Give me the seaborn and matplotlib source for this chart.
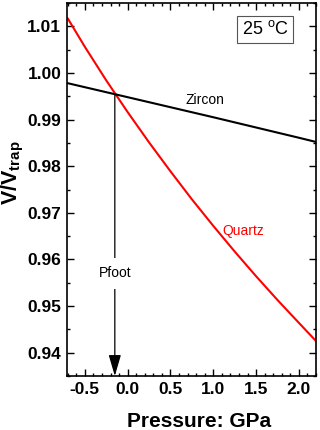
import matplotlib
matplotlib.use("Agg")
import matplotlib.pyplot as plt
import seaborn as sns
import pandas as pd

# Data
quartz_p = [-0.7, -0.5, -0.25, 0.0, 0.25, 0.5, 0.75, 1.0, 1.25, 1.5, 1.75, 2.0, 2.2]
quartz_v = [1.0117, 1.0056, 0.9984, 0.9916, 0.9851, 0.9789, 0.9729, 0.9672, 0.9617, 0.9564, 0.9513, 0.9464, 0.9425]
zircon_p = [-0.7, 0.0, 1.0, 2.0, 2.2]
zircon_v = [0.9978, 0.9948, 0.9905, 0.9861, 0.9852]
pfoot_p = -0.15
pfoot_v = 0.9952
xticks = [-0.5, 0.0, 0.5, 1.0, 1.5, 2.0]
yticks = [0.94, 0.95, 0.96, 0.97, 0.98, 0.99, 1.00, 1.01]

sns.set_style("ticks")
plt.rcParams['font.family'] = ['Liberation Sans', 'DejaVu Sans']
plt.rcParams['mathtext.fontset'] = 'custom'
plt.rcParams['mathtext.rm'] = 'Liberation Sans'
plt.rcParams['mathtext.bf'] = 'Liberation Sans:bold'
for k in ['text.color', 'axes.labelcolor', 'xtick.color', 'ytick.color', 'axes.edgecolor']:
    plt.rcParams[k] = 'black'

fig = plt.figure(figsize=(3.2, 4.3), dpi=100)
ax = fig.add_axes([0.209, 0.1256, 0.9875 - 0.209, 0.993 - 0.1256])

dq = pd.DataFrame({"P": quartz_p, "V": quartz_v})
dz = pd.DataFrame({"P": zircon_p, "V": zircon_v})
sns.lineplot(data=dq, x="P", y="V", color="#ff0000", lw=1.5, ax=ax)
sns.lineplot(data=dz, x="P", y="V", color="black", lw=1.5, ax=ax)

ax.set_xlim(-0.71, 2.2)
ax.set_ylim(0.935, 1.0149)
ax.set_xticks(xticks)
ax.set_xticklabels([f"{t:.1f}" for t in xticks])
ax.set_yticks(yticks)
ax.set_yticklabels([f"{t:.2f}" for t in yticks])
ax.set_xticks([x / 10 for x in range(-7, 23)], minor=True)
ax.set_yticks([0.935 + 0.005 * i for i in range(17)], minor=True)
ax.tick_params(which="both", direction="in", top=True, right=True, width=1.0, color="black")
ax.tick_params(which="major", length=5, labelsize=12.5, pad=4)
ax.tick_params(which="minor", length=2.5)
for lab in ax.get_xticklabels() + ax.get_yticklabels():
    lab.set_fontweight("bold")
for s in ax.spines.values():
    s.set_linewidth(1.2)
    s.set_color("black")

ax.set_xlabel("Pressure: GPa", fontsize=15, fontweight="bold", labelpad=11)
ax.xaxis.label.set_x(0.53)
ax.set_ylabel(r"$\mathbf{V/V_{trap}}$", fontsize=15.5, labelpad=1)
ax.yaxis.label.set_y(0.545)

ax.annotate("", xy=(pfoot_p, 0.935), xytext=(pfoot_p, pfoot_v),
            arrowprops=dict(arrowstyle="-|>,head_length=1.3,head_width=0.38",
                            color="black", lw=0.9, shrinkA=0, shrinkB=0))
ax.text(pfoot_p, 0.957, "Pfoot", fontsize=10, ha="center", va="center",
        bbox=dict(facecolor="white", edgecolor="none", pad=6), zorder=5)
ax.text(0.90, 0.9941, "Zircon", fontsize=10, ha="center", va="center", color="black")
ax.text(1.35, 0.9662, "Quartz", fontsize=10, ha="center", va="center", color="#ff0000")
ax.text(0.797, 0.930, "25 $^\\mathregular{o}$C", transform=ax.transAxes, fontsize=13,
        ha="center", va="center",
        bbox=dict(facecolor="white", edgecolor="#555555", lw=0.8, boxstyle="square,pad=0.25"))

fig.savefig("out.png", dpi=100)
